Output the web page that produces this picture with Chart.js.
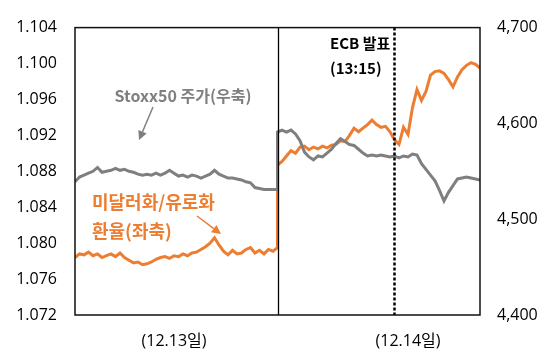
<!DOCTYPE html>
<html>
<head>
<meta charset="utf-8">
<script src="https://cdn.jsdelivr.net/npm/chart.js@4"></script>
<style>
html,body{margin:0;padding:0;background:#fff;}
#wrap{width:542px;height:351px;position:relative;}
</style>
</head>
<body>
<div id="wrap"><canvas id="c" width="542" height="351"></canvas></div>
<script>
// time index (two sessions: 0-45 = 12.13, 45-90 = 12.14); 45 appears twice for the overnight gap
const times = [0,1,2,3,4,5,6,7,8,9,10,11,12,13,14,15,16,17,18,19,20,21,22,23,24,25,26,27,28,29,30,31,32,33,34,35,36,37,38,39,40,41,42,43,44,45,
  45,46,47,48,49,50,51,52,53,54,55,56,57,58,59,60,61,62,63,64,65,66,67,68,69,70,71,72,73,74,75,76,77,78,79,80,81,82,83,84,85,86,87,88,89,90];

// USD per EUR (left axis)
const eurusd = [
  1.0784,1.0788,1.0787,1.0790,1.0786,1.0788,1.0784,1.0786,1.0788,1.0785,
  1.0789,1.0784,1.0781,1.0778,1.0779,1.0776,1.0777,1.0779,1.0782,1.0784,
  1.0785,1.0783,1.0786,1.0785,1.0788,1.0786,1.0789,1.0790,1.0793,1.0796,
  1.0800,1.0806,1.0798,1.0791,1.0787,1.0792,1.0788,1.0789,1.0793,1.0795,
  1.0789,1.0792,1.0788,1.0793,1.0791,1.0795,
  1.0887,
  1.0891,1.0897,1.0903,1.0900,1.0907,1.0908,1.0904,1.0907,1.0905,1.0908,
  1.0906,1.0909,1.0910,1.0914,1.0913,1.0920,1.0928,1.0924,1.0928,1.0932,
  1.0937,1.0932,1.0929,1.0930,1.0924,1.0915,1.0910,1.0929,1.0921,1.0951,
  1.0971,1.0959,1.0969,1.0987,1.0991,1.0992,1.0989,1.0982,1.0974,1.0985,
  1.0993,1.0998,1.1001,1.0999,1.0995
];

// Euro Stoxx 50 (right axis)
const stoxx = [
  4539,4544,4546,4548,4550,4554,4549,4550,4551,4553,
  4551,4552,4550,4549,4547,4546,4547,4546,4548,4546,
  4548,4551,4548,4545,4546,4544,4546,4545,4543,4545,
  4547,4551,4547,4545,4543,4543,4542,4541,4539,4538,
  4533,4532,4531,4531,4531,4531,
  4591,
  4593,4591,4593,4589,4582,4570,4565,4562,4566,4565,
  4569,4573,4579,4584,4581,4578,4577,4573,4569,4566,
  4567,4566,4567,4566,4565,4566,4564,4566,4565,4568,
  4567,4558,4552,4546,4540,4530,4519,4528,4535,4542,
  4543,4544,4543,4542,4541
];

const leftTicks = [1.072,1.076,1.080,1.084,1.088,1.092,1.096,1.100,1.104];
const rightTicks = [4400,4500,4600,4700];
const dayTickPos = [22, 74];
const dayLabels = ['(12.13일)', '(12.14일)'];
const dayBreak = 45;
const ecbTime = 71;

const ORANGE = '#ED7D31';
const GRAY = '#7F7F7F';
const NUMFONT = '"Open Sans", "Noto Sans CJK KR", sans-serif';
const KFONT = '"Noto Sans CJK KR", "Noto Sans", sans-serif';

function arrow(ctx, x1, y1, x2, y2, color) {
  ctx.save();
  ctx.strokeStyle = color; ctx.fillStyle = color; ctx.lineWidth = 1.5;
  const a = Math.atan2(y2 - y1, x2 - x1);
  const hl = 9, hw = 4.5;
  const bx = x2 - hl * Math.cos(a), by = y2 - hl * Math.sin(a);
  ctx.beginPath(); ctx.moveTo(x1, y1); ctx.lineTo(bx, by); ctx.stroke();
  ctx.beginPath();
  ctx.moveTo(x2, y2);
  ctx.lineTo(bx + hw * Math.sin(a), by - hw * Math.cos(a));
  ctx.lineTo(bx - hw * Math.sin(a), by + hw * Math.cos(a));
  ctx.closePath(); ctx.fill();
  ctx.restore();
}

const overlay = {
  id: 'overlay',
  afterDatasetsDraw(chart) {
    const ctx = chart.ctx, a = chart.chartArea, xs = chart.scales.x;
    ctx.save();
    // day separator
    const xb = Math.round(xs.getPixelForValue(dayBreak)) + 0.5;
    ctx.strokeStyle = '#000'; ctx.lineWidth = 1.3;
    ctx.beginPath(); ctx.moveTo(xb, a.top); ctx.lineTo(xb, a.bottom); ctx.stroke();
    // ECB line
    const xe = xs.getPixelForValue(ecbTime);
    ctx.lineWidth = 2.5; ctx.setLineDash([3, 2]);
    ctx.beginPath(); ctx.moveTo(xe, a.top); ctx.lineTo(xe, a.bottom); ctx.stroke();
    ctx.setLineDash([]);
    // frame
    ctx.lineWidth = 1.5; ctx.strokeStyle = '#111';
    ctx.strokeRect(a.left, a.top, a.right - a.left, a.bottom - a.top);

    // annotations
    ctx.textBaseline = 'middle';
    ctx.fillStyle = GRAY; ctx.font = 'bold 16px ' + KFONT; ctx.textAlign = 'center';
    ctx.fillText('Stoxx50 주가(우축)', 183, 96);
    arrow(ctx, 153, 107, 139, 140, GRAY);

    ctx.fillStyle = ORANGE; ctx.font = 'bold 18px ' + KFONT; ctx.textAlign = 'left';
    ctx.fillText('미달러화/유로화', 92, 202);
    ctx.fillText('환율(좌축)', 92, 231);
    arrow(ctx, 197, 216, 221, 234, ORANGE);

    ctx.fillStyle = '#000'; ctx.font = 'bold 15px ' + KFONT;
    ctx.fillText('ECB 발표', 330, 43);
    ctx.fillText('(13:15)', 330, 68);
    ctx.restore();
  }
};

new Chart(document.getElementById('c'), {
  type: 'line',
  data: {
    datasets: [
      { label: 'Stoxx50', data: times.map((t, i) => ({x: t, y: stoxx[i]})), yAxisID: 'y1',
        borderColor: GRAY, borderWidth: 3, pointRadius: 0, tension: 0 },
      { label: 'EURUSD', data: times.map((t, i) => ({x: t, y: eurusd[i]})), yAxisID: 'y',
        borderColor: ORANGE, borderWidth: 3, pointRadius: 0, tension: 0 }
    ]
  },
  options: {
    responsive: false, animation: false, devicePixelRatio: 1,
    layout: { padding: { top: 21, left: 0, right: 0, bottom: 0 } },
    plugins: { legend: { display: false }, tooltip: { enabled: false } },
    scales: {
      x: {
        type: 'linear', min: 0, max: 90,
        grid: { display: false, drawTicks: false }, border: { display: false },
        afterBuildTicks(s) { s.ticks = dayTickPos.map(v => ({value: v})); },
        afterFit(s) { s.height = 36; },
        ticks: { padding: 17, color: '#000', font: { family: NUMFONT, size: 16 },
          maxRotation: 0, autoSkip: false,
          callback: (v) => dayLabels[dayTickPos.indexOf(v)] }
      },
      y: {
        position: 'left', min: 1.072, max: 1.104,
        grid: { display: false, drawTicks: false }, border: { display: false },
        afterBuildTicks(s) { s.ticks = leftTicks.map(v => ({value: v})); },
        afterFit(s) { s.width = 75; },
        ticks: { padding: 18, color: '#000', font: { family: NUMFONT, size: 16 },
          callback: (v) => v.toFixed(3) }
      },
      y1: {
        position: 'right', min: 4400, max: 4700,
        grid: { display: false, drawTicks: false }, border: { display: false },
        afterBuildTicks(s) { s.ticks = rightTicks.map(v => ({value: v})); },
        afterFit(s) { s.width = 62; },
        ticks: { padding: 17, color: '#000', font: { family: NUMFONT, size: 16 },
          callback: (v) => v.toLocaleString('en-US') }
      }
    }
  },
  plugins: [overlay]
});
</script>
</body>
</html>
